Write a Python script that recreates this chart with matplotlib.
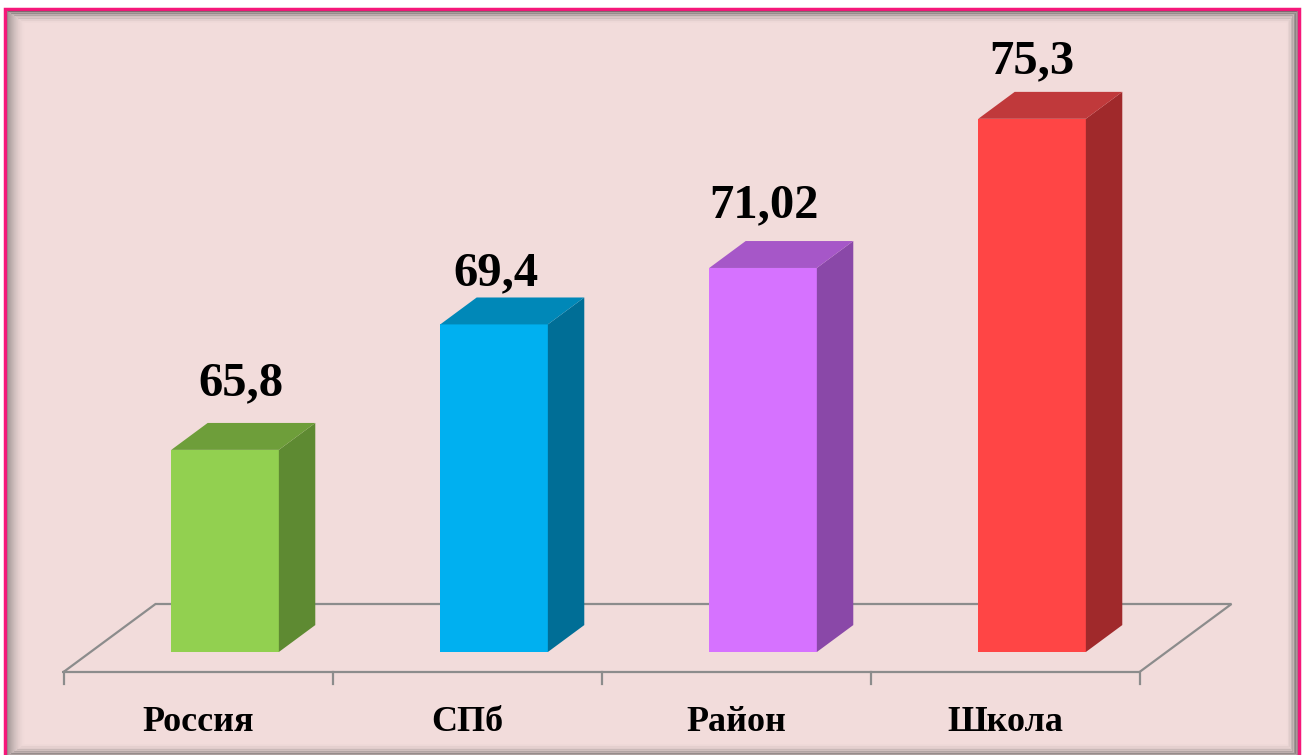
import matplotlib.pyplot as plt
from matplotlib.patches import Rectangle

categories = ["Россия", "СПб", "Район", "Школа"]
values = [65.8, 69.4, 71.02, 75.3]
value_labels = ["65,8", "69,4", "71,02", "75,3"]
front_colors = ["#92D050", "#00B0F0", "#D672FF", "#FF4545"]
top_colors = ["#6E9E3A", "#0088B8", "#A657C8", "#C0393B"]
side_colors = ["#5E8A32", "#006E96", "#8A48A8", "#A0292B"]

BASE = 60.0
W, H = 1305, 755
K = 34.85          # px per value unit
STEP = 269         # px per category
X0, Y0 = 198, 672  # px of first category center on the floor front line
DX = 92 / STEP     # floor depth offset (category units)
DY = 68 / K        # floor depth offset (value units)
D0, D1 = 0.294, 0.69
HALF = 0.2
# label nudges in px (x right, y gap above the back top edge)
LABEL_DX = [16, 2, 1, 0]
LABEL_GAP = [28, 12, 24, 19]

fig = plt.figure(figsize=(W / 100, H / 100), dpi=100)
fig.patch.set_facecolor("white")

# frame with pink border and inner shadow
bg = fig.add_axes([0, 0, 1, 1])
bg.set_xlim(0, W)
bg.set_ylim(H, 0)
bg.axis("off")
bg.add_patch(Rectangle((4.5, 9), 1294, 760, facecolor="#F2DCDB",
                       edgecolor="#F5177A", linewidth=2.5, zorder=1))
for i in range(18):
    a = 0.45 * (1 - i / 18) ** 1.8
    bg.add_patch(Rectangle((6.5 + i, 10.5 + i * 0.7), 1290 - 1.6 * i, 745 - i * 1.4,
                           facecolor="none", edgecolor="#4A4A4A",
                           linewidth=0.8, alpha=a, zorder=2))

ax = fig.add_axes([0, 0, 1, 1])
ax.set_xlim(-X0 / STEP, (W - X0) / STEP)
ax.set_ylim(BASE - (H - Y0) / K, BASE + Y0 / K)
ax.axis("off")
ax.patch.set_alpha(0)

n = len(categories)
grid = "#8C8C8C"
lo, hi = -0.5, n - 0.5
ax.plot([lo, hi, hi + DX, lo + DX, lo], [BASE, BASE, BASE + DY, BASE + DY, BASE],
        color=grid, lw=1.6, zorder=1, solid_joinstyle="miter")
for t in range(n + 1):
    xt = lo + t
    ax.plot([xt, xt], [BASE, BASE - 12 / K], color=grid, lw=1.6, zorder=1)

dd = D1 - D0
for i, v in enumerate(values):
    x0 = i - HALF + D0 * DX
    x1 = i + HALF + D0 * DX
    b = BASE + D0 * DY
    top = v + D0 * DY
    ax.bar(x0, top - b, width=x1 - x0, bottom=b, align="edge",
           color=front_colors[i], edgecolor="none", zorder=3)
    ax.fill([x1, x1 + dd * DX, x1 + dd * DX, x1],
            [b, b + dd * DY, top + dd * DY, top],
            color=side_colors[i], lw=0, zorder=3)
    ax.fill([x0, x1, x1 + dd * DX, x0 + dd * DX],
            [top, top, top + dd * DY, top + dd * DY],
            color=top_colors[i], lw=0, zorder=3)
    ax.text((x0 + x1) / 2 + LABEL_DX[i] / STEP, top + dd * DY + LABEL_GAP[i] / K,
            value_labels[i], ha="center", va="baseline", fontsize=35,
            fontweight="bold", family="Liberation Serif", color="black", zorder=4)
    ax.text(i, BASE - 59 / K, categories[i], ha="center", va="baseline",
            fontsize=26, fontweight="bold", family="Liberation Serif",
            color="black", zorder=4)

fig.savefig("out.png", dpi=100)
